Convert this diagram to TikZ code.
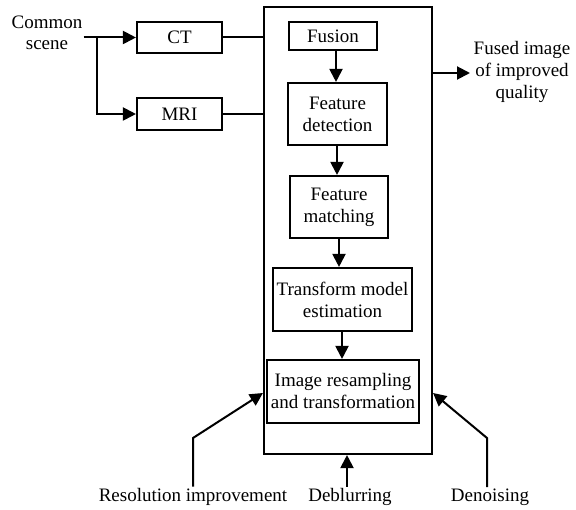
\documentclass[tikz,border=0pt]{standalone}
\usepackage{fontspec}
\setmainfont{Liberation Serif}
\usetikzlibrary{arrows.meta}
\begin{document}
\begin{tikzpicture}[x=1pt,y=-1pt,
  every node/.style={font=\fontsize{19}{22}\selectfont, align=center},
  box/.style={draw, line width=2.1pt, inner sep=0pt},
  link/.style={line width=2pt},
  arr/.style={link, -{Triangle[length=13pt,width=13pt]}},
  lbl/.style={inner sep=2pt}]
\useasboundingbox (0,0) rectangle (576,510);

% outer processing block
\node[box, minimum width=168pt, minimum height=447pt] (big) at (348,230.5) {};

% inputs
\node[lbl, inner sep=1pt] (cs) at (47,33) {Common\\[-1pt]scene};
\node[box, minimum width=85pt, minimum height=31pt] (ct) at (179.5,37.5) {CT};
\node[box, minimum width=85pt, minimum height=32pt] (mri) at (179.5,114) {MRI};

% pipeline stages
\node[box, minimum width=88pt, minimum height=28pt] (fus) at (333,36) {Fusion};
\node[box, minimum width=99pt, minimum height=62pt] (fd) at (337.5,114) {Feature\\detection};
\node[box, minimum width=98pt, minimum height=62pt] (fm) at (339,207) {Feature\\matching};
\node[box, minimum width=139pt, minimum height=63pt] (tme) at (342.5,299.5) {Transform model\\estimation};
\node[box, minimum width=152pt, minimum height=63pt] (irt) at (343,391.5) {Image resampling\\and transformation};

% output
\node[lbl] (out) at (522,72) {Fused image\\of improved\\quality};
\coordinate (oa) at (470,73);

% enhancement labels
\node[lbl, anchor=base] (res) at (193,502) {Resolution improvement};
\node[lbl, anchor=base] (deb) at (350,502) {Deblurring};
\node[lbl, anchor=base] (den) at (490,502) {Denoising};
\coordinate (rk) at (193,438);
\coordinate (dk) at (487,438);
\coordinate (br) at (97,0);

% input connectors
\draw[arr] (cs.east |- ct) -- (ct.west);
\draw[arr] (br |- ct) -- (br |- mri) -- (mri.west);
\draw[link] (ct.east) -- (ct.east -| big.west);
\draw[link] (mri.east) -- (mri.east -| big.west);

% pipeline arrows
\draw[arr] (fus.south -| 336,0) -- (fd.north -| 336,0);
\draw[arr] (fd.south -| 337,0) -- (fm.north -| 337,0);
\draw[arr] (fm.south -| 339,0) -- (tme.north -| 339,0);
\draw[arr] (tme.south -| 342,0) -- (irt.north -| 342,0);

% output arrow
\draw[arr] (big.east |- oa) -- (oa);

% enhancement arrows
\draw[arr] (res.north -| rk) -- (rk) -- (big.west |- 0,393);
\draw[arr] (deb.north -| 347,0) -- (big.south -| 347,0);
\draw[arr] (den.north -| dk) -- (dk) -- (big.east |- 0,393);
\end{tikzpicture}
\end{document}
